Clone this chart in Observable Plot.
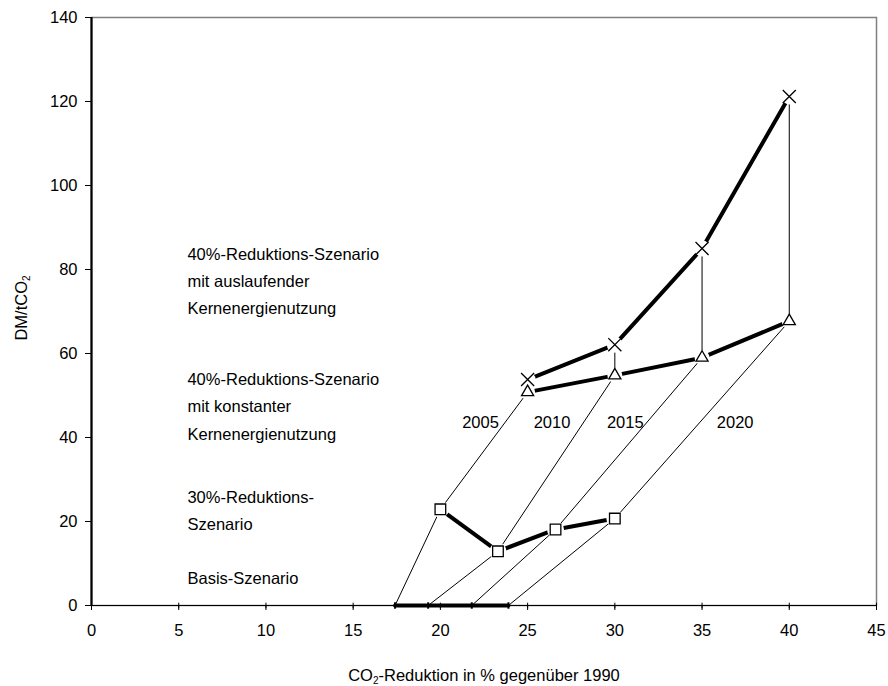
<!DOCTYPE html>
<html><head><meta charset="utf-8">
<script src="https://cdn.jsdelivr.net/npm/d3@7"></script>
<script src="https://cdn.jsdelivr.net/npm/@observablehq/plot@0.6"></script>
<style>body{margin:0;background:#fff}</style>
</head><body><div id="chart"></div>
<script>
const years = ["2005", "2010", "2015", "2020"];
const basisX = [17.4, 19.3, 21.8, 23.9];
const basisY = [0, 0, 0, 0];
const red30X = [20.0, 23.3, 26.6, 30.0];
const red30Y = [22.9, 12.9, 18.1, 20.7];
const red40kX = [25, 30, 35, 40];
const red40kY = [50.8, 54.8, 59.0, 67.7];
const red40aX = [25, 30, 35, 40];
const red40aY = [53.8, 62.1, 85.0, 121.2];
const xTicks = [0, 5, 10, 15, 20, 25, 30, 35, 40, 45];
const yTicks = [0, 20, 40, 60, 80, 100, 120, 140];
const yearLabelX = [22.3, 26.4, 30.6, 36.9];
const yearLabelY = [43.6, 43.6, 43.6, 43.6];
const scenarioText = [
  "40%-Reduktions-Szenario\nmit auslaufender\nKernenergienutzung",
  "40%-Reduktions-Szenario\nmit konstanter\nKernenergienutzung",
  "30%-Reduktions-\nSzenario",
  "Basis-Szenario"
];
const scenarioX = [5.5, 5.5, 5.5, 5.5];
const scenarioY = [77.9, 48.1, 23.3, 7.1];

const pts = (xs, ys) => xs.map((x, i) => ({x, y: ys[i], year: years[i]}));
const basis = pts(basisX, basisY);
const red30 = pts(red30X, red30Y);
const red40k = pts(red40kX, red40kY);
const red40a = pts(red40aX, red40aY);
const connectors = years.flatMap((yr, i) => [basis[i], red30[i], red40k[i], red40a[i]].map(d => ({...d, year: yr})));
const yearLabels = years.map((t, i) => ({t, x: yearLabelX[i], y: yearLabelY[i]}));
const scenarios = scenarioText.map((t, i) => ({t, x: scenarioX[i], y: scenarioY[i]}));

const vTick = {draw(ctx, size) { const r = Math.sqrt(size / Math.PI); ctx.moveTo(0, -r); ctx.lineTo(0, r); }};

const font = "'Liberation Sans', Arial, sans-serif";
const fs = 16.5;
const chart = Plot.plot({
  width: 888, height: 686,
  marginLeft: 91, marginRight: 12, marginTop: 17, marginBottom: 81,
  style: {fontFamily: font, fontSize: fs + "px", color: "black", background: "white"},
  x: {domain: [0, 45]},
  y: {domain: [0, 140]},
  marks: [
    Plot.frame({stroke: "#808080", strokeWidth: 1.5}),
    Plot.axisY({ticks: yTicks, tickSize: 6, tickPadding: 8, label: null, fontSize: fs}),
    Plot.axisX({ticks: xTicks, tickSize: 5, tickPadding: 14, label: null, fontSize: fs}),
    Plot.dot(xTicks, {x: d => d, y: () => 0, symbol: vTick, r: 2.8, stroke: "black", strokeWidth: 1}),
    Plot.ruleX([0], {stroke: "black", strokeWidth: 2.2}),
    Plot.ruleY([0], {stroke: "black", strokeWidth: 1.2}),
    Plot.line(connectors, {x: "x", y: "y", z: "year", stroke: "black", strokeWidth: 1}),
    Plot.line(basis, {x: "x", y: "y", stroke: "black", strokeWidth: 4}),
    Plot.line(red30, {x: "x", y: "y", stroke: "black", strokeWidth: 4}),
    Plot.line(red40k, {x: "x", y: "y", stroke: "black", strokeWidth: 4}),
    Plot.line(red40a, {x: "x", y: "y", stroke: "black", strokeWidth: 4}),
    Plot.dot(red30, {x: "x", y: "y", r: 6, fill: "white", stroke: "white", strokeWidth: 5}),
    Plot.dot(red40k, {x: "x", y: "y", r: 5, fill: "white", stroke: "white", strokeWidth: 5}),
    Plot.dot(red40a, {x: "x", y: "y", r: 5, fill: "white", stroke: "white", strokeWidth: 6}),
    Plot.dot(basis, {x: "x", y: "y", symbol: vTick, r: 3.2, stroke: "black", strokeWidth: 2}),
    Plot.dot(red30, {x: "x", y: "y", symbol: "square", r: 6, fill: "white", stroke: "black", strokeWidth: 1.3}),
    Plot.dot(red40k, {x: "x", y: "y", symbol: "triangle", r: 4.5, fill: "white", stroke: "black", strokeWidth: 1.3}),
    Plot.dot(red40a, {x: "x", y: "y", symbol: "times", r: 6, stroke: "black", strokeWidth: 1.3}),
    Plot.text(yearLabels, {x: "x", y: "y", text: "t", fill: "black", fontSize: fs}),
    Plot.text(scenarios, {x: "x", y: "y", text: "t", textAnchor: "start", lineHeight: 1.66, fill: "black", fontSize: fs})
  ]
});
document.getElementById("chart").appendChild(chart);
const svg = d3.select(chart);
const yt = svg.append("text").attr("transform", "translate(27,308) rotate(-90)")
  .attr("text-anchor", "middle").attr("font-size", fs).attr("fill", "black").attr("font-family", font);
yt.append("tspan").text("DM/tCO");
yt.append("tspan").text("2").attr("font-size", 10).attr("dy", 3);
const xt = svg.append("text").attr("x", 484).attr("y", 681)
  .attr("text-anchor", "middle").attr("font-size", fs).attr("fill", "black").attr("font-family", font);
xt.append("tspan").text("CO");
xt.append("tspan").text("2").attr("font-size", 10).attr("dy", 3);
xt.append("tspan").text("-Reduktion in % gegenüber 1990").attr("dy", -3);
</script>
</body></html>
